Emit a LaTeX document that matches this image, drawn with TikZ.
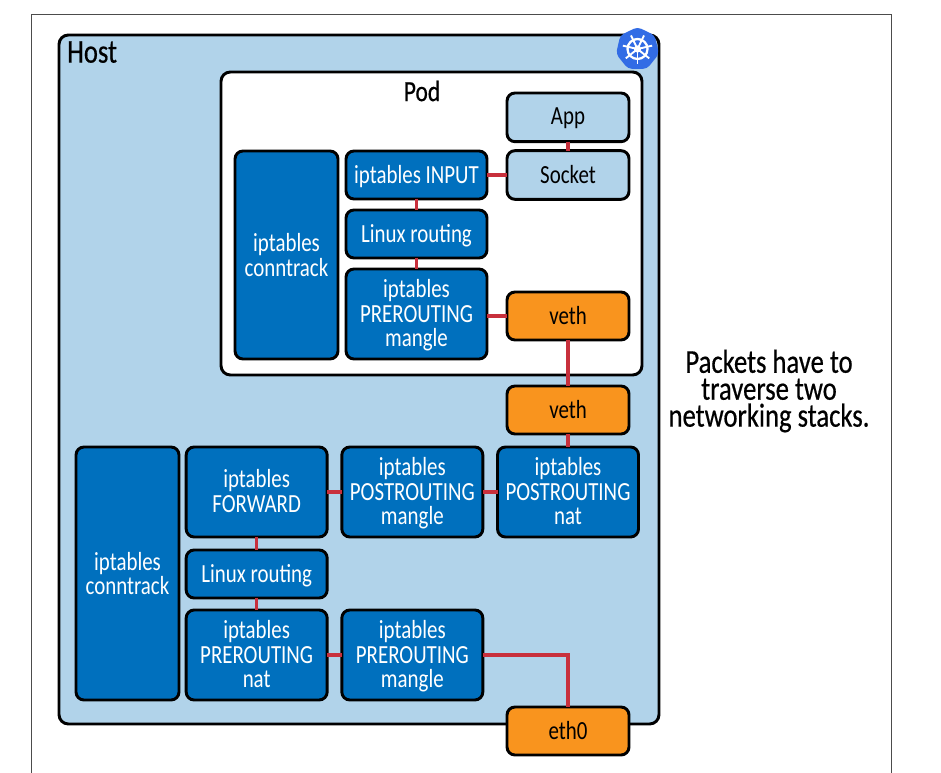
\documentclass[tikz,border=0pt]{standalone}
\usepackage{fontspec}
\setmainfont[FakeStretch=0.8]{Carlito}
\newfontfamily\headfont[FakeStretch=0.8,FakeBold=0.5]{Carlito}
\usepackage{xcolor}
\usetikzlibrary{positioning,shapes.geometric}
\definecolor{hostblue}{HTML}{B1D3EA}
\definecolor{stackblue}{HTML}{0070BE}
\definecolor{vethorange}{HTML}{F9941E}
\definecolor{linkred}{HTML}{C8303C}
\definecolor{kubeblue}{HTML}{326CE5}
\tikzset{
  base/.style    ={rounded corners=6pt,draw=black,line width=2.2pt,inner sep=0pt,outer sep=0pt,
                   align=center,text depth=1.5pt,font=\fontsize{19.6}{18.4}\selectfont},
  zone/.style    ={base,rounded corners=7pt},
  stack/.style   ={base,fill=stackblue,text=white,minimum width=105.75pt,minimum height=36pt},
  tall/.style    ={stack,minimum height=67.5pt},
  track/.style   ={stack,text depth=0pt,minimum width=77.25pt},
  sock/.style    ={base,fill=hostblue,minimum width=91.5pt,minimum height=36.5pt},
  iface/.style   ={base,fill=vethorange,minimum width=91.5pt,minimum height=36pt},
  link/.style    ={draw=linkred,line width=2.5pt}
}
\begin{document}
\begin{tikzpicture}[x=0.75pt,y=-0.75pt]
  \useasboundingbox (0,0) rectangle (941,773);
  \draw[line width=0.7pt,draw=black!70] (31,773) -- (31,14) -- (891,14) -- (891,773);
  % the two stacks
  \node[zone,fill=hostblue,minimum width=450pt,minimum height=516.75pt] (host) at (359,379.5) {};
  \node[zone,fill=white,minimum width=315.75pt,minimum height=227.25pt] (pod) at (431.5,223.5) {};
  \node[anchor=north west,inner sep=0pt,font=\headfont\fontsize{25}{25}\selectfont] (hostlabel) at (67,41) {Host};
  \node[inner sep=0pt,font=\headfont\fontsize{22}{22}\selectfont] (podlabel) at (422,91) {Pod};
  % pod
  \node[stack] (input) at (416.5,175) {iptables INPUT};
  \node[stack,below=8.25pt of input] (podrouting) {Linux routing};
  \node[tall,below=8.25pt of podrouting] (podmangle) {iptables\\PREROUTING\\mangle};
  \node[track,minimum height=156pt,anchor=north east] (podtrack) at (338,151) {iptables\\conntrack};
  \node[sock,right=15pt of input] (socket) {Socket};
  \node[sock,above=6.75pt of socket] (app) {App};
  \node[iface] (podveth) at (568,316) {veth};
  % host
  \node[iface,below=34.5pt of podveth] (hostveth) {veth};
  \node[tall,anchor=north] (postnat) at (568,447) {iptables\\POSTROUTING\\nat};
  \node[tall,left=11pt of postnat] (postmangle) {iptables\\POSTROUTING\\mangle};
  \node[tall,left=11pt of postmangle] (forward) {iptables\\FORWARD};
  \node[stack,below=9.75pt of forward] (hostrouting) {Linux routing};
  \node[tall,below=9pt of hostrouting] (prenat) {iptables\\PREROUTING\\nat};
  \node[tall,right=11pt of prenat] (premangle) {iptables\\PREROUTING\\mangle};
  \node[track,minimum height=189.75pt,anchor=north east] (hosttrack) at (179,447) {iptables\\conntrack};
  \node[iface] (eth) at (568,731) {eth0};
  % links
  \draw[link] (app) -- (socket);
  \draw[link] (socket) -- (input);
  \draw[link] (input) -- (podrouting);
  \draw[link] (podrouting) -- (podmangle);
  \draw[link] (podmangle.east |- podveth) -- (podveth);
  \draw[link] (podveth) -- (hostveth);
  \draw[link] (hostveth) -- (postnat);
  \draw[link] (postnat) -- (postmangle);
  \draw[link] (postmangle) -- (forward);
  \draw[link] (forward) -- (hostrouting);
  \draw[link] (hostrouting) -- (prenat);
  \draw[link] (prenat) -- (premangle);
  \draw[link] (premangle) -| (eth);
  % kubernetes badge
  \node[regular polygon,regular polygon sides=7,fill=kubeblue,rounded corners=3pt,inner sep=0pt,
        minimum size=33pt] (kube) at (637.5,49) {};
  \draw[white,line width=1.7pt] (kube.center) circle (10);
  \draw[white,line width=1.5pt,fill=white] (kube.center) circle (2.5);
  \foreach \a in {90,141.43,192.86,244.29,295.71,347.14,38.57}
    \draw[white,line width=1.4pt] (kube.center) -- ++(\a:15);
  % side note
  \node[align=center,inner sep=0pt,font=\headfont\fontsize{25}{20.2}\selectfont] (note) at (769,391)
    {Packets have to\\traverse two\\networking stacks.};
\end{tikzpicture}
\end{document}
